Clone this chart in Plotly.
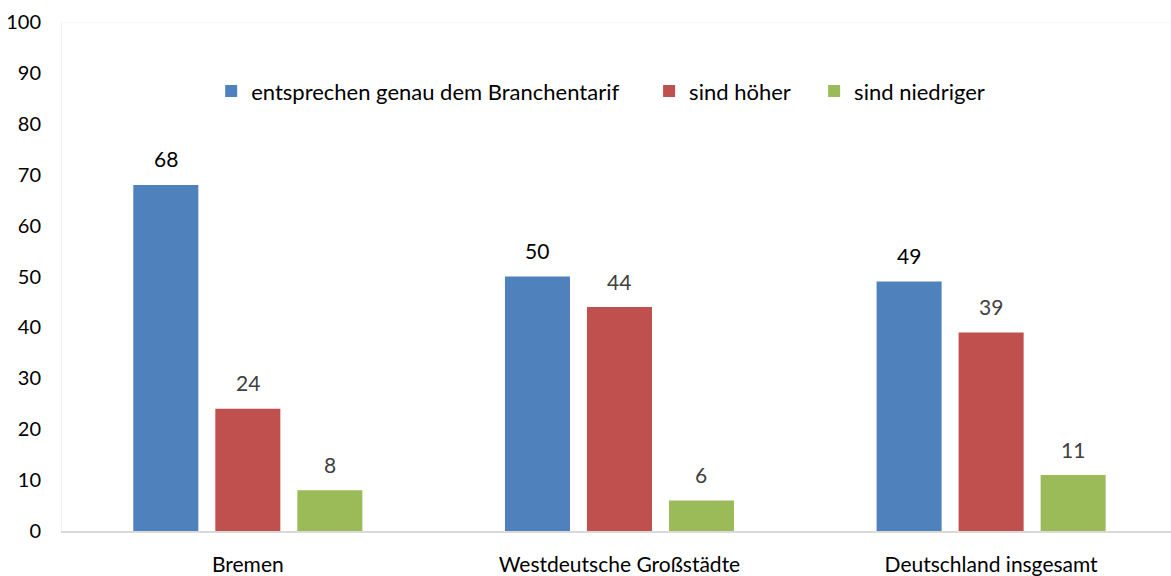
import plotly.graph_objects as go

# Survey result: wages compared with the sector collective agreement (%)
categories = ["Bremen", "Westdeutsche Großstädte", "Deutschland insgesamt"]
series_names = ["entsprechen genau dem Branchentarif", "sind höher", "sind niedriger"]
genau = [68, 50, 49]
hoeher = [24, 44, 39]
niedriger = [8, 6, 11]
y_ticks = [0, 10, 20, 30, 40, 50, 60, 70, 80, 90, 100]

colors = ["#4F81BD", "#C0504D", "#9BBB59"]
label_colors = ["#000000", "#404040", "#404040"]
FONT = "Lato"

BARGAP = 0.338
BARGROUPGAP = 0.207

# each series gets its own legend box so the entries can be spaced freely
legend_ids = ["legend", "legend2", "legend3"]
legend_x = [0.1345, 0.5294, 0.6782]

fig = go.Figure()
x_idx = list(range(len(categories)))
all_values = [genau, hoeher, niedriger]
for name, vals, col, lg in zip(series_names, all_values, colors, legend_ids):
    fig.add_trace(go.Bar(
        x=x_idx, y=vals, name=name, legend=lg,
        marker=dict(color=col, line=dict(width=0)),
        hoverinfo="skip",
    ))

# value labels above each bar
slot = (1 - BARGAP) / len(all_values)
for s, (vals, lc) in enumerate(zip(all_values, label_colors)):
    offset = (s - (len(all_values) - 1) / 2) * slot
    for i, v in enumerate(vals):
        fig.add_annotation(
            x=i + offset, y=v, text=str(v), showarrow=False,
            yanchor="middle", yshift=26,
            font=dict(family=FONT, size=21, color=lc),
        )

# faint top border of the plot area
fig.add_shape(type="line", xref="paper", yref="y", x0=0, x1=1, y0=100, y1=100,
              line=dict(color="#f2f2f2", width=1), layer="below")

legend_style = dict(
    orientation="h", xanchor="left", y=0.864, yanchor="middle",
    font=dict(family=FONT, size=22, color="#000000"),
    bgcolor="rgba(0,0,0,0)", itemclick=False, itemdoubleclick=False,
)

fig.update_layout(
    width=1171, height=576,
    margin=dict(l=62, r=0, t=22, b=41),
    paper_bgcolor="white", plot_bgcolor="white",
    barmode="group", bargap=BARGAP, bargroupgap=BARGROUPGAP,
    font=dict(family=FONT, size=21, color="#000000"),
    showlegend=True,
    legend=dict(x=legend_x[0], **legend_style),
    legend2=dict(x=legend_x[1], **legend_style),
    legend3=dict(x=legend_x[2], **legend_style),
    xaxis=dict(
        tickmode="array", tickvals=x_idx, ticktext=categories,
        range=[-0.5, 2.484], showgrid=False, zeroline=False,
        showline=True, linecolor="#d9d9d9", linewidth=2,
        ticks="", ticklabelstandoff=14,
        tickfont=dict(family=FONT, size=21, color="#000000"),
        fixedrange=True,
    ),
    yaxis=dict(
        range=[0, 100], tickmode="array", tickvals=y_ticks,
        showgrid=False, zeroline=False,
        showline=True, linecolor="#f2f2f2", linewidth=1,
        ticks="", ticklabelstandoff=16,
        tickfont=dict(family=FONT, size=20, color="#000000"),
        fixedrange=True,
    ),
)

fig.write_html("out.html")
